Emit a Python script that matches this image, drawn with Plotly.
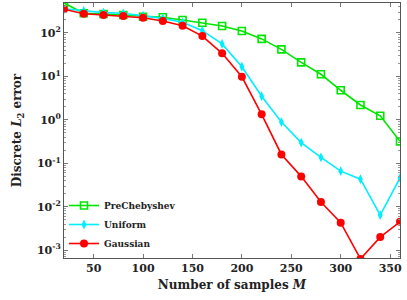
import plotly.graph_objects as go

samples = [20, 40, 60, 80, 100, 120, 140, 160, 180, 200, 220, 240, 260, 280, 300, 320, 340, 360]
prechebyshev = [490, 284, 274, 260, 237, 230, 199, 172, 145, 111, 73, 42, 21, 11.2, 4.8, 2.2, 1.24, 0.32]
uniform = [360, 322, 294, 284, 250, 217, 176, 113, 56, 16.7, 3.5, 0.89, 0.30, 0.137, 0.066, 0.043, 0.0064, 0.046]
gaussian = [352, 278, 260, 246, 225, 189, 147, 85, 34, 9.8, 1.34, 0.16, 0.050, 0.0129, 0.0043, 0.00063, 0.0020, 0.0045]

x_ticks = [50, 100, 150, 200, 250, 300, 350]
y_ticks = [1e-3, 1e-2, 1e-1, 1e0, 1e1, 1e2]
y_ticktext = ["10<sup>-3</sup>", "10<sup>-2</sup>", "10<sup>-1</sup>", "10<sup>0</sup>", "10<sup>1</sup>", "10<sup>2</sup>"]

minor_vals = [m * 10 ** k for k in range(-4, 3) for m in range(2, 10)]

serif = "DejaVu Serif"

fig = go.Figure()
fig.add_trace(go.Scatter(x=samples, y=prechebyshev, name="PreChebyshev", mode="lines+markers",
                         line=dict(color="#00e600", width=1.6),
                         marker=dict(symbol="square-open", size=7, color="#00e600", line=dict(width=1.6))))
fig.add_trace(go.Scatter(x=samples, y=uniform, name="Uniform", mode="lines+markers",
                         line=dict(color="#00eeff", width=1.6),
                         marker=dict(symbol="diamond-tall", size=7, color="#00eeff")))
fig.add_trace(go.Scatter(x=samples, y=gaussian, name="Gaussian", mode="lines+markers",
                         line=dict(color="#ff0000", width=1.6),
                         marker=dict(symbol="circle", size=8, color="#ff0000")))

fig.update_layout(
    width=407, height=300,
    margin=dict(l=64, r=7, t=3, b=42),
    paper_bgcolor="white", plot_bgcolor="white",
    font=dict(family=serif, color="#222", size=11),
    showlegend=True,
    legend=dict(x=0.0, y=0.0, xanchor="left", yanchor="bottom",
                bgcolor="rgba(255,255,255,0)", font=dict(family=serif, size=9, weight="bold"),
                tracegroupgap=0, itemwidth=30),
)
fig.update_xaxes(
    range=[20, 360], tickvals=x_ticks, ticks="inside", ticklen=4, mirror="allticks",
    showline=True, linecolor="#555", linewidth=1, showgrid=False, zeroline=False,
    tickfont=dict(family=serif, size=11, weight="bold"), tickcolor="#777",
    title=dict(text="Number of samples <i>M</i>", font=dict(family=serif, size=12, weight="bold"), standoff=6),
)
fig.update_yaxes(
    type="log", range=[-3.18, 2.69], tickvals=y_ticks, ticktext=y_ticktext,
    ticks="inside", ticklen=4, mirror="allticks",
    showline=True, linecolor="#555", linewidth=1, showgrid=False, zeroline=False,
    tickfont=dict(family=serif, size=11, weight="bold"), tickcolor="#777",
    minor=dict(tickvals=minor_vals, ticks="inside", ticklen=2, tickcolor="#999", showgrid=False),
    title=dict(text="Discrete <i>L</i><sub>2</sub> error", font=dict(family=serif, size=12, weight="bold"), standoff=12),
)

fig.write_html("out.html", config={"displayModeBar": False},
               post_script="document.body.style.margin='0';")
